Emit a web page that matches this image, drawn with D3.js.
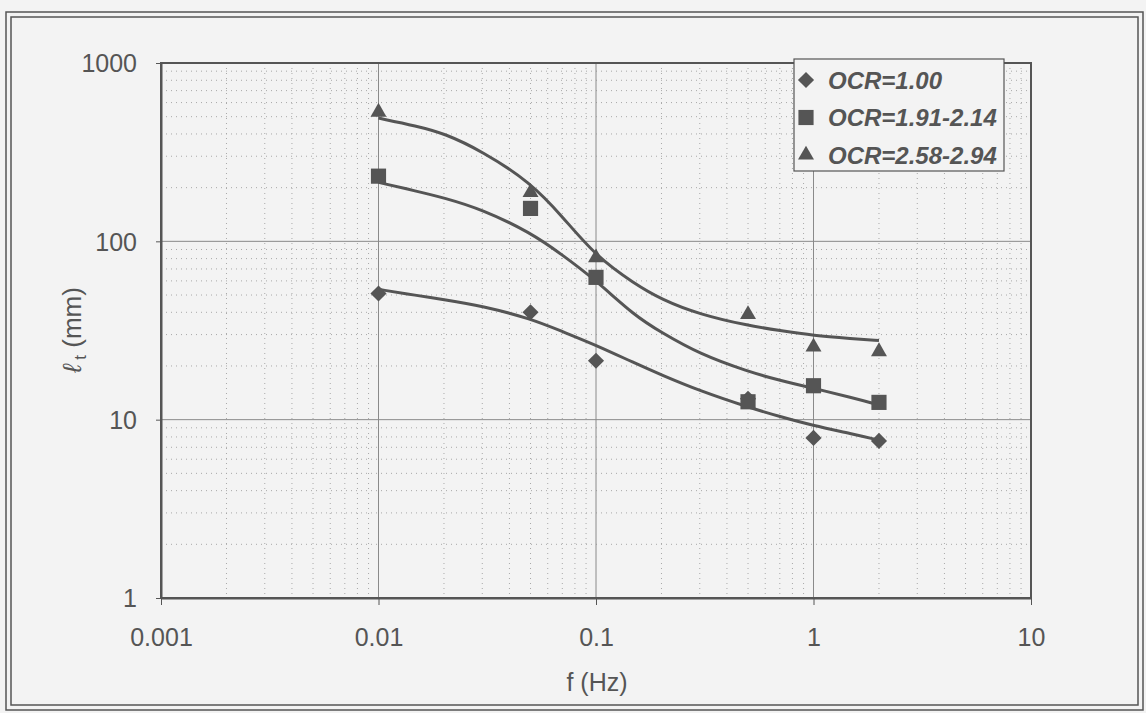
<!DOCTYPE html>
<html>
<head>
<meta charset="utf-8">
<style>
  body { margin: 0; background: #f3f3f3; }
  svg { display: block; font-family: "Liberation Sans", Arial, Helvetica, sans-serif; }
</style>
</head>
<body>
<script src="https://cdn.jsdelivr.net/npm/d3@7/dist/d3.min.js"></script>
<script>
// chart size
var w = 1146, h = 713;
var m = { left: 161, top: 63, right: 1031, bottom: 598 };

// measured points
var freqs = [0.01, 0.05, 0.1, 0.5, 1, 2];
var ocr100 = [51, 40, 21.4, 13.1, 7.9, 7.6];
var ocr191 = [232, 153, 62.8, 12.6, 15.5, 12.5];
var ocr258 = [531, 188, 81, 38.9, 25.6, 24.1];

// fitted curves
var curveF = [0.01, 0.015, 0.02, 0.03, 0.05, 0.07, 0.1, 0.15, 0.2, 0.3, 0.5, 0.7, 1, 1.5, 2];
var fit100 = [53.8, 49.7, 47.2, 43.4, 36.9, 31.2, 26.2, 20.8, 17.8, 14.5, 11.75, 10.4, 9.25, 8.34, 7.67];
var fit191 = [214, 191, 175.5, 151, 112, 84, 60.4, 38.4, 30.8, 23.3, 18.6, 16.6, 15.0, 13.3, 12.1];
var fit258 = [491, 443, 404, 320, 214, 138, 82.4, 58, 47.2, 38.9, 33.7, 31.6, 29.6, 28.5, 27.8];

var xTicks = [0.001, 0.01, 0.1, 1, 10];
var yTicks = [1, 10, 100, 1000];
var legendNames = ["OCR=1.00", "OCR=1.91-2.14", "OCR=2.58-2.94"];

var ink = "#555";

var svg = d3.select("body").append("svg")
    .attr("width", w)
    .attr("height", h);

// double frame round the whole chart
svg.append("rect").attr("x", 6).attr("y", 12).attr("width", 1137).attr("height", 698)
    .attr("fill", "none").attr("stroke", ink).attr("stroke-width", 1.5);
svg.append("rect").attr("x", 11).attr("y", 17).attr("width", 1127).attr("height", 688)
    .attr("fill", "none").attr("stroke", ink).attr("stroke-width", 1.5);

var x = d3.scaleLog().domain([0.001, 10]).range([m.left, m.right]);
var y = d3.scaleLog().domain([1, 1000]).range([m.bottom, m.top]);

// minor grid (dotted) and major grid (solid)
var minorX = [], minorY = [];
[0.001, 0.01, 0.1, 1].forEach(function (d) {
  for (var k = 2; k <= 9; k++) minorX.push(d * k);
});
[1, 10, 100].forEach(function (d) {
  for (var k = 2; k <= 9; k++) minorY.push(d * k);
});

var grid = svg.append("g");
grid.selectAll(".mx").data(minorX).enter().append("line")
    .attr("x1", d => x(d)).attr("x2", d => x(d))
    .attr("y1", m.top).attr("y2", m.bottom)
    .attr("stroke", "#a8a8a8").attr("stroke-dasharray", "1,4");
grid.selectAll(".my").data(minorY).enter().append("line")
    .attr("y1", d => y(d)).attr("y2", d => y(d))
    .attr("x1", m.left).attr("x2", m.right)
    .attr("stroke", "#a8a8a8").attr("stroke-dasharray", "1,4");
grid.selectAll(".Mx").data(xTicks.slice(1, -1)).enter().append("line")
    .attr("x1", d => x(d)).attr("x2", d => x(d))
    .attr("y1", m.top).attr("y2", m.bottom)
    .attr("stroke", "#8a8a8a").attr("stroke-width", 1);
grid.selectAll(".My").data(yTicks.slice(1, -1)).enter().append("line")
    .attr("y1", d => y(d)).attr("y2", d => y(d))
    .attr("x1", m.left).attr("x2", m.right)
    .attr("stroke", "#8a8a8a").attr("stroke-width", 1);

// plot frame
svg.append("rect")
    .attr("x", m.left).attr("y", m.top)
    .attr("width", m.right - m.left).attr("height", m.bottom - m.top)
    .attr("fill", "none").attr("stroke", ink).attr("stroke-width", 2);

// axes
var xAxis = d3.axisBottom(x).tickValues(xTicks).tickSize(7).tickSizeOuter(0)
    .tickFormat(d => String(d));
var yAxis = d3.axisLeft(y).tickValues(yTicks).tickSize(5).tickSizeOuter(0)
    .tickFormat(d => String(d));

var gx = svg.append("g").attr("transform", "translate(0," + m.bottom + ")").call(xAxis);
var gy = svg.append("g").attr("transform", "translate(" + m.left + ",0)").call(yAxis);
[gx, gy].forEach(function (g) {
  g.select(".domain").attr("stroke", ink).attr("stroke-width", 2);
  g.selectAll(".tick line").attr("stroke", ink);
  g.selectAll(".tick text").attr("fill", ink).attr("font-size", "25px")
      .attr("font-family", "'Liberation Sans', Arial, sans-serif");
});
gx.selectAll(".tick text").attr("dy", 0).attr("y", 48);
gy.selectAll(".tick text").attr("x", -24).attr("dy", "0.35em");

// axis titles
svg.append("text")
    .attr("x", (x(0.01) + x(1)) / 2 + 1).attr("y", 691)
    .attr("text-anchor", "middle").attr("font-size", "25px").attr("fill", ink)
    .text("f (Hz)");

var yt = svg.append("text")
    .attr("transform", "translate(81,330) rotate(-90)")
    .attr("text-anchor", "middle").attr("font-size", "26px").attr("fill", ink);
yt.append("tspan").attr("font-style", "italic").text("\u2113");
yt.append("tspan").attr("font-size", "17px").attr("dy", 5).text(" t");
yt.append("tspan").attr("dy", -5).text(" (mm)");

// fitted curves
var line = d3.line()
    .x(d => x(d[0]))
    .y(d => y(d[1]))
    .curve(d3.curveBasis);

[fit100, fit191, fit258].forEach(function (vals) {
  svg.append("path")
      .datum(curveF.map((f, i) => [f, vals[i]]))
      .attr("d", line)
      .attr("fill", "none")
      .attr("stroke", ink)
      .attr("stroke-width", 3);
});

// markers
var diamond = d3.symbol().type(d3.symbolSquare).size(130);
var square = d3.symbol().type(d3.symbolSquare).size(230);
var triangle = d3.symbol().type(d3.symbolTriangle).size(110);

function drawMarks(vals, sym, rot) {
  svg.append("g").selectAll("path")
      .data(freqs.map((f, i) => [f, vals[i]]))
      .enter().append("path")
      .attr("d", sym)
      .attr("transform", d => "translate(" + x(d[0]) + "," + y(d[1]) + ")" + (rot ? " rotate(45)" : ""))
      .attr("fill", ink);
}
drawMarks(ocr100, diamond, true);
drawMarks(ocr191, square, false);
drawMarks(ocr258, triangle, false);

// legend
var lg = svg.append("g");
lg.append("rect")
    .attr("x", 794).attr("y", 59).attr("width", 210).attr("height", 112)
    .attr("fill", "#f3f3f3").attr("stroke", ink).attr("stroke-width", 1.2);
var syms = [[diamond, true], [square, false], [triangle, false]];
legendNames.forEach(function (name, i) {
  var cy = 80 + i * 37.5;
  lg.append("path")
      .attr("d", syms[i][0])
      .attr("transform", "translate(806," + cy + ")" + (syms[i][1] ? " rotate(45)" : ""))
      .attr("fill", ink);
  lg.append("text")
      .attr("x", 828).attr("y", cy + 8.5)
      .attr("font-size", "24px").attr("font-weight", "bold").attr("font-style", "italic")
      .attr("fill", ink)
      .text(name);
});
</script>
</body>
</html>
